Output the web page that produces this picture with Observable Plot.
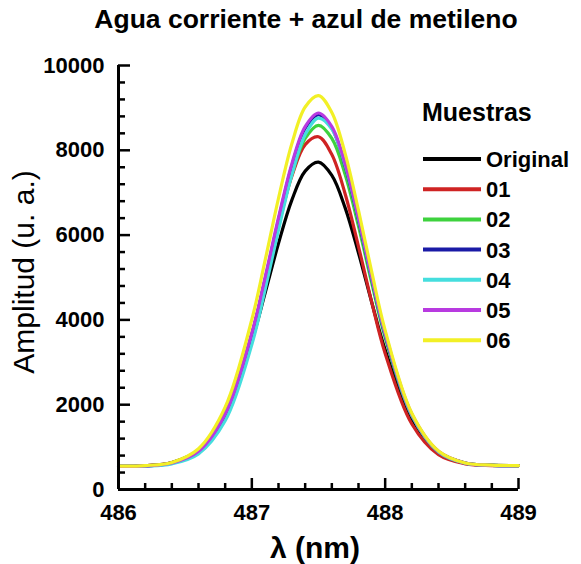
<!DOCTYPE html>
<html><head><meta charset="utf-8">
<script src="https://cdn.jsdelivr.net/npm/d3@7"></script>
<script src="https://cdn.jsdelivr.net/npm/@observablehq/plot@0.6"></script>
<style>
body{margin:0;background:#fff;}
#chart svg{font-family:"Liberation Sans", Arial, sans-serif;display:block;}
</style>
</head><body><div id="chart"></div>
<script>
// wavelength samples (nm)
const wavelengths = [486.0,486.2,486.4,486.6,486.8,487.0,487.1,487.2,487.3,487.4,487.5,487.6,487.7,487.8,487.9,488.0,488.2,488.4,488.6,488.8,489.0];
// amplitudes (u. a.)
const original = [545,560,635,930,1786,3504,4638,5805,6824,7509,7720,7407,6642,5578,4405,3294,1664,887,626,575,565];
const s01 = [545,560,630,915,1790,3670,4940,6250,7390,8135,8320,7900,6970,5730,4410,3210,1545,820,605,565,565];
const s02 = [545,558,625,890,1740,3580,4860,6210,7430,8280,8590,8280,7430,6210,4860,3580,1740,890,625,570,565];
const s03 = [545,556,620,890,1750,3640,4960,6360,7630,8520,8840,8520,7630,6360,4960,3640,1750,890,620,570,565];
const s04 = [545,553,605,840,1620,3420,4720,6120,7420,8370,8760,8500,7650,6400,4990,3670,1750,885,618,570,565];
const s05 = [545,558,625,900,1780,3690,5010,6410,7680,8560,8880,8560,7680,6410,5010,3690,1780,900,625,570,565];
const s06 = [552,564,639,962,1942,4011,5410,6869,8154,9021,9290,8891,7922,6581,5119,3754,1800,908,625,575,565];

const seriesNames = ["Original","01","02","03","04","05","06"];
const seriesValues = [original,s01,s02,s03,s04,s05,s06];
const seriesColors = ["#000000","#cf2323","#3ed23e","#1a1aa6","#45dede","#b83ae0","#f2f026"];

const xTicks = [486,487,488,489];
const yTicks = [0,2000,4000,6000,8000,10000];
const xMinorStep = 0.2;
const yMinorStep = 400;

const W = 581, H = 564;
const mL = 118, mR = 63, mT = 65, mB = 75;
const innerW = W - mL - mR, innerH = H - mT - mB;

const rows = seriesNames.flatMap((name, si) =>
  wavelengths.map((w, i) => ({serie: name, w, a: seriesValues[si][i]})));

const xMinor = d3.range(486, 489.0001, xMinorStep).map(v => +v.toFixed(2)).filter(v => !xTicks.includes(v));
const yMinor = d3.range(0, 10001, yMinorStep).filter(v => !yTicks.includes(v));

const plot = Plot.plot({
  width: W, height: H,
  marginLeft: mL, marginRight: mR, marginTop: mT, marginBottom: mB,
  style: {fontFamily: '"Liberation Sans", Arial, sans-serif', background: "#fff"},
  x: {domain: [486, 489]},
  y: {domain: [0, 10000]},
  color: {domain: seriesNames, range: seriesColors},
  marks: [
    Plot.line(rows, {x: "w", y: "a", z: "serie", stroke: "serie", strokeWidth: 3.2, curve: "catmull-rom"}),
    Plot.tickY(yTicks, {y: d => d, insetRight: innerW - 12, strokeWidth: 2.5, stroke: "#000"}),
    Plot.tickY(yMinor, {y: d => d, insetRight: innerW - 7, strokeWidth: 2.5, stroke: "#000"}),
    Plot.tickX(xTicks, {x: d => d, insetTop: innerH - 11, strokeWidth: 2.5, stroke: "#000"}),
    Plot.tickX(xMinor, {x: d => d, insetTop: innerH - 6, strokeWidth: 2.5, stroke: "#000"}),
    Plot.ruleX([486], {y1: 0, y2: 10000, strokeWidth: 3, stroke: "#000"}),
    Plot.ruleY([0], {x1: 486, x2: 489, strokeWidth: 3, stroke: "#000"}),
    Plot.axisY({ticks: yTicks, tickSize: 0, tickPadding: 14, fontSize: 22, fontWeight: "bold", tickFormat: d => String(d), label: null}),
    Plot.axisX({ticks: xTicks, tickSize: 0, tickPadding: 15, fontSize: 22, fontWeight: "bold", tickFormat: d => String(d), label: null})
  ]
});

const svg = d3.select(plot);
svg.append("text").attr("x", 306).attr("y", 28).attr("text-anchor", "middle")
  .attr("font-size", 26.5).attr("font-weight", "bold").attr("fill", "#000")
  .text("Agua corriente + azul de metileno");
svg.append("text").attr("x", 315).attr("y", 558).attr("text-anchor", "middle")
  .attr("font-size", 30).attr("font-weight", "bold").attr("fill", "#000")
  .text("λ (nm)");
svg.append("text").attr("transform", "translate(34,272) rotate(-90)").attr("text-anchor", "middle")
  .attr("font-size", 30).attr("fill", "#000")
  .text("Amplitud (u. a.)");

const lg = svg.append("g").attr("text-anchor", "start");
lg.append("text").attr("x", 422).attr("y", 121).attr("text-anchor", "start")
  .attr("font-size", 25).attr("font-weight", "bold").attr("fill", "#000").text("Muestras");
seriesNames.forEach((name, i) => {
  const y = 159 + i * 30.2;
  lg.append("line").attr("x1", 423).attr("x2", 481).attr("y1", y).attr("y2", y)
    .attr("stroke", seriesColors[i]).attr("stroke-width", 4);
  lg.append("text").attr("x", 486).attr("y", y).attr("dy", "0.36em").attr("text-anchor", "start")
    .attr("font-size", 22).attr("font-weight", "bold").attr("fill", "#000").text(name);
});

document.getElementById("chart").appendChild(plot);
</script>
</body></html>
